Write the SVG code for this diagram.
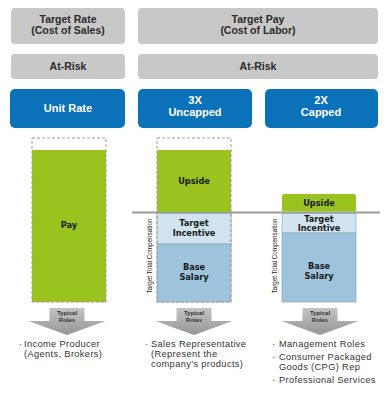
<svg xmlns="http://www.w3.org/2000/svg" width="388" height="398" viewBox="0 0 388 398">
<style>
.hdr{fill:#c8c8c8}
.blue{fill:#0b72b9}
.ht{font-family:"Liberation Sans",Arial,sans-serif;font-weight:bold;font-size:10.5px;fill:#2b2b2b;text-anchor:middle}
.bt{font-family:"Liberation Sans",Arial,sans-serif;font-weight:bold;font-size:11px;fill:#fff;text-anchor:middle}
.ct{font-family:"DejaVu Sans",Verdana,sans-serif;font-weight:bold;font-size:8.2px;fill:#1a1a1a;text-anchor:middle}
.green{fill:#9ac31f}
.ti{fill:#d0e3ee;stroke:#8eaabb;stroke-width:0.7}
.bs{fill:#9dc4dc;stroke:#8eaabb;stroke-width:0.7}
.dash{fill:none;stroke:#9a9a9a;stroke-width:1;stroke-dasharray:3,2}
.vt{font-family:"Liberation Sans",Arial,sans-serif;font-size:6.3px;fill:#222;text-anchor:middle}
.rt{font-family:"Liberation Sans",Arial,sans-serif;font-weight:bold;font-size:6px;fill:#333;text-anchor:middle}
.bl{font-family:"Liberation Sans",Arial,sans-serif;font-size:9.3px;fill:#333;letter-spacing:0.35px}
</style>
<defs>
<linearGradient id="ag" x1="0" y1="0" x2="0" y2="1">
<stop offset="0" stop-color="#c4c4c4"/>
<stop offset="1" stop-color="#959595"/>
</linearGradient>
<g id="arrow">
<path d="M-17.5,0 H17.5 V13 H38.5 L0,27 L-38.5,13 H-17.5 Z" fill="url(#ag)"/>
</g>
</defs>

<g id="hdr-target-rate">
<rect class="hdr" x="11" y="8" width="114" height="36" rx="4"/>
<text class="ht" x="68" y="23">Target Rate</text>
<text class="ht" x="68" y="34">(Cost of Sales)</text>
</g>
<g id="hdr-target-pay">
<rect class="hdr" x="138" y="8" width="240" height="36" rx="4"/>
<text class="ht" x="258" y="23">Target Pay</text>
<text class="ht" x="258" y="34">(Cost of Labor)</text>
</g>
<g id="atrisk-left">
<rect class="hdr" x="11" y="54" width="114" height="25" rx="4"/>
<text class="ht" x="68" y="70">At-Risk</text>
</g>
<g id="atrisk-right">
<rect class="hdr" x="138" y="54" width="240" height="25" rx="4"/>
<text class="ht" x="258" y="70">At-Risk</text>
</g>
<g id="unit-rate">
<rect class="blue" x="10" y="89" width="115" height="39" rx="5"/>
<text class="bt" x="68" y="112">Unit Rate</text>
</g>
<g id="uncapped">
<rect class="blue" x="138" y="89" width="114" height="39" rx="5"/>
<text class="bt" x="195" y="104">3X</text>
<text class="bt" x="195" y="116">Uncapped</text>
</g>
<g id="capped">
<rect class="blue" x="265" y="89" width="113" height="39" rx="5"/>
<text class="bt" x="321" y="104">2X</text>
<text class="bt" x="321" y="116">Capped</text>
</g>

<g id="col-pay">
<rect class="green" x="32" y="150" width="74" height="152"/>
<rect class="dash" x="32" y="138" width="74" height="164"/>
<text class="ct" x="69" y="228">Pay</text>
</g>

<g id="connectors">
<line x1="132" y1="212.5" x2="380" y2="212.5" stroke="#9a9a9a" stroke-width="2"/>
</g>

<g id="col-3x">
<rect class="green" x="157" y="150" width="74" height="62"/>
<rect class="ti" x="157" y="213.5" width="74" height="30.5"/>
<rect class="bs" x="157" y="244" width="74" height="58"/>
<rect class="dash" x="157" y="138" width="74" height="164"/>
<text class="ct" x="194" y="184">Upside</text>
<text class="ct" x="194" y="226">Target</text>
<text class="ct" x="194" y="236">Incentive</text>
<text class="ct" x="194" y="270">Base</text>
<text class="ct" x="194" y="280">Salary</text>
<text class="vt" transform="translate(152,256) rotate(-90)">Target Total Compensation</text>
</g>

<g id="col-2x">
<path class="green" d="M282,211.5 V196 Q282,194 284,194 H354 Q356,194 356,196 V211.5 Z"/>
<rect class="ti" x="282" y="213.5" width="74" height="19.5"/>
<rect class="bs" x="282" y="233" width="74" height="69"/>
<text class="ct" x="319" y="206">Upside</text>
<text class="ct" x="319" y="222">Target</text>
<text class="ct" x="319" y="231">Incentive</text>
<text class="ct" x="319" y="269">Base</text>
<text class="ct" x="319" y="279">Salary</text>
<text class="vt" transform="translate(277,256) rotate(-90)">Target Total Compensation</text>
</g>

<g id="roles-1">
<use href="#arrow" transform="translate(67,308)"/>
<text class="rt" x="67" y="315">Typical</text>
<text class="rt" x="67" y="322">Roles</text>
<text class="bl" x="19" y="347">·</text>
<text class="bl" x="24" y="347">Income Producer</text>
<text class="bl" x="24" y="357">(Agents, Brokers)</text>
</g>
<g id="roles-2">
<use href="#arrow" transform="translate(194,308)"/>
<text class="rt" x="194" y="315">Typical</text>
<text class="rt" x="194" y="322">Roles</text>
<text class="bl" x="145" y="347">·</text>
<text class="bl" x="151" y="347">Sales Representative</text>
<text class="bl" x="151" y="357">(Represent the</text>
<text class="bl" x="151" y="367">company’s products)</text>
</g>
<g id="roles-3">
<use href="#arrow" transform="translate(320,308)"/>
<text class="rt" x="320" y="315">Typical</text>
<text class="rt" x="320" y="322">Roles</text>
<text class="bl" x="272" y="347">·</text>
<text class="bl" x="279" y="347">Management Roles</text>
<text class="bl" x="272" y="360">·</text>
<text class="bl" x="279" y="360">Consumer Packaged</text>
<text class="bl" x="279" y="370">Goods (CPG) Rep</text>
<text class="bl" x="272" y="383">·</text>
<text class="bl" x="279" y="383">Professional Services</text>
</g>
</svg>
